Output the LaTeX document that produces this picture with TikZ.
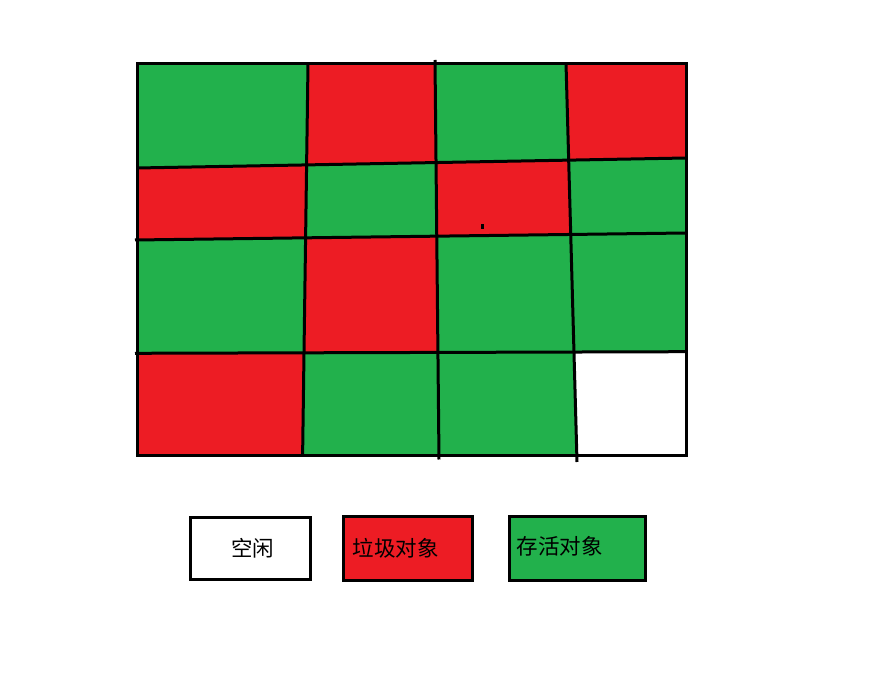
\documentclass[tikz,border=0pt]{standalone}
\usepackage{fontspec}
\newfontfamily\cjk{Noto Sans CJK SC}
\definecolor{gred}{HTML}{ED1C24}
\definecolor{ggreen}{HTML}{22B14C}
\begin{document}
\begin{tikzpicture}[x=1pt,y=-1pt,
  gridline/.style={line width=3pt,draw=black},
  legbox/.style={draw=black,line width=3pt,rectangle,inner sep=0pt},
  legtext/.style={inner sep=0pt,font=\cjk\fontsize{21.5}{21.5}\selectfont,text=black}]
\path[use as bounding box] (0,0) rectangle (892,692);
% grid corner points
\coordinate (p00) at (137,64);   \coordinate (p10) at (308,64);    \coordinate (p20) at (435,64);    \coordinate (p30) at (566,64);    \coordinate (p40) at (686,64);
\coordinate (p01) at (137,168);  \coordinate (p11) at (306.6,164.9); \coordinate (p21) at (436.05,162.55); \coordinate (p31) at (568.7,160.1); \coordinate (p41) at (686,158);
\coordinate (p02) at (137,240);  \coordinate (p12) at (305.6,237.8); \coordinate (p22) at (436.8,236.2); \coordinate (p32) at (570.7,234.5); \coordinate (p42) at (686,233);
\coordinate (p03) at (137,353.3);\coordinate (p13) at (304,352.8); \coordinate (p23) at (437.9,352.4); \coordinate (p33) at (574,351.9); \coordinate (p43) at (686,351.7);
\coordinate (p04) at (137,456);  \coordinate (p14) at (302.6,456); \coordinate (p24) at (439,456);   \coordinate (p34) at (576.8,456); \coordinate (p44) at (686,456);
% cells: \cell{i1}{j1}{i2}{j2}{colour}
\def\cell#1#2#3#4#5{\fill[#5] (p#1#2) -- (p#3#2) -- (p#3#4) -- (p#1#4) -- cycle;}
\cell0011{ggreen}\cell1021{gred}\cell2031{ggreen}\cell3041{gred}
\cell0112{gred}\cell1122{ggreen}\cell2132{gred}\cell3142{ggreen}
\cell0213{ggreen}\cell1223{gred}\cell2233{ggreen}\cell3243{ggreen}
\cell0314{gred}\cell1324{ggreen}\cell2334{ggreen}\cell3344{white}
% small dot
\fill[black] (481,224) rectangle (483.5,229);
% grid lines
\coordinate (v2t) at (435,60);  \coordinate (v2b) at (439,459.5);
\coordinate (v3t) at (566,63);  \coordinate (v3b) at (577,462);
\coordinate (h2l) at (135,240); \coordinate (h3l) at (135,353.3);
\draw[gridline] (p10) -- (p11) -- (p12) -- (p13) -- (p14);
\draw[gridline] (v2t) -- (v2b);
\draw[gridline] (v3t) -- (v3b);
\draw[gridline] (p01) -- (p41);
\draw[gridline] (h2l) -- (p42);
\draw[gridline] (h3l) -- (p43);
\draw[gridline] (p00) rectangle (p44);
% legend
\node[legbox,fill=white,minimum width=120pt,minimum height=62pt] (free) at (250,548) {};
\node[legbox,fill=gred,minimum width=129pt,minimum height=64pt] (garbage) at (407.5,548) {};
\node[legbox,fill=ggreen,minimum width=136pt,minimum height=64pt] (alive) at (577,548) {};
\node[legtext] (freet) at (252.5,548) {空闲};
\node[legtext,anchor=west] (garbaget) at (352.7,548) {垃圾对象};
\node[legtext,anchor=west] (alivet) at (516.7,546.7) {存活对象};
\end{tikzpicture}
\end{document}
